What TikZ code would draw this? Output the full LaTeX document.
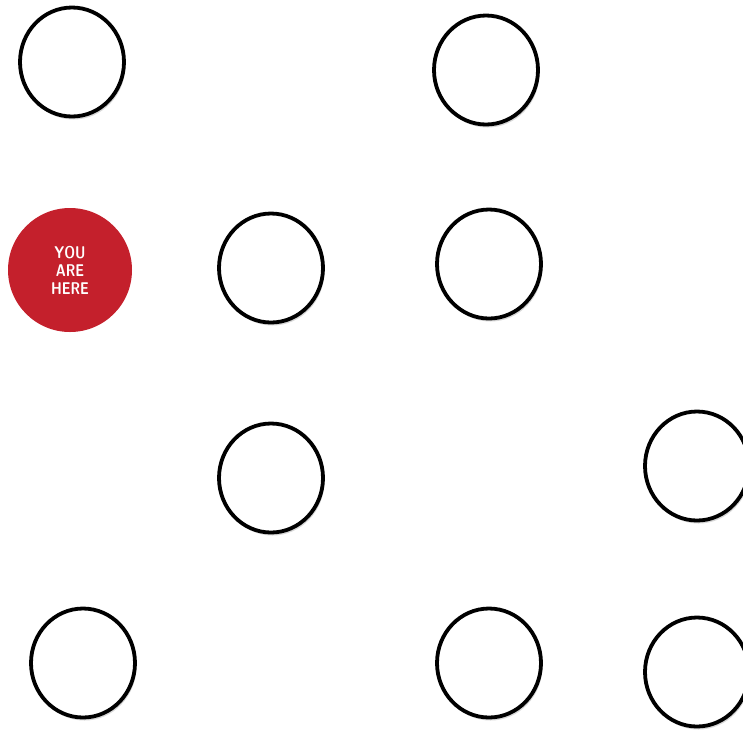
\documentclass[tikz,border=0pt]{standalone}
\usepackage{tikz}
\usepackage{graphicx}
\usetikzlibrary{shapes.geometric, shadows}

\definecolor{hereRed}{RGB}{196,32,44}
\newcommand{\narrowtext}[1]{\scalebox{0.8}[1]{#1}}

\begin{document}
\begin{tikzpicture}[
    x=1pt, y=-1pt,
    spot/.style={
        ellipse,
        draw=black,
        line width=3.8pt,
        fill=white,
        minimum width=104pt,
        minimum height=109pt,
        inner sep=0pt,
        drop shadow={shadow xshift=1.5pt, shadow yshift=-3pt, fill=black!35, opacity=0.45}
    },
    here/.style={
        circle,
        fill=hereRed,
        minimum size=124pt,
        inner sep=0pt,
        align=center,
        text=white,
        font=\sffamily\bfseries\fontsize{17}{18}\selectfont
    }
]

% --- page frame ---
\useasboundingbox (0,0) rectangle (743,732);
\clip (0,0) rectangle (743,732);

% --- you are here ---
\node[here] (youhere) at (70,270) {\narrowtext{YOU}\\\narrowtext{ARE}\\\narrowtext{HERE}};

% --- empty spots, row by row ---
\node[spot] (spot_tl) at (72,62) {};
\node[spot] (spot_tc) at (486,70) {};

\node[spot] (spot_m1) at (271,268) {};
\node[spot] (spot_m2) at (489,264) {};

\node[spot] (spot_low) at (271,478) {};
\node[spot] (spot_r1) at (697,466) {};

\node[spot] (spot_bl) at (83,663) {};
\node[spot] (spot_bc) at (489,663) {};
\node[spot] (spot_br) at (697,672) {};

\end{tikzpicture}
\end{document}
